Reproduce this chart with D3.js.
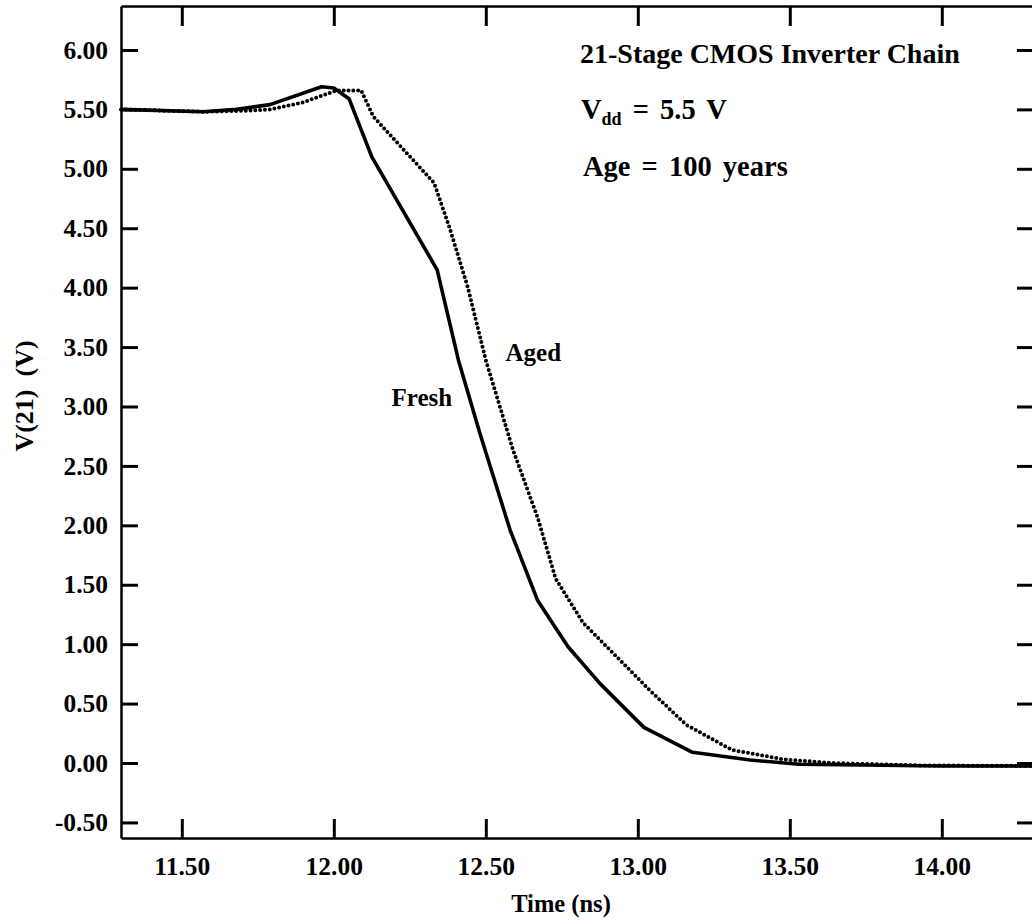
<!DOCTYPE html>
<html>
<head>
<meta charset="utf-8">
<script src="https://cdn.jsdelivr.net/npm/d3@7"></script>
<style>
  body { margin: 0; background: #fff; }
  svg text { font-family: "Liberation Serif", "Times New Roman", serif; font-weight: bold; fill: #000; }
  .axis path, .axis line { stroke: #000; }
  .axis path { stroke-width: 2.5; }
  .axis line { stroke-width: 3; }
</style>
</head>
<body>
<div id="chart"></div>
<script>
// fresh inverter chain output (ns, volts)
var freshTime = [11.30, 11.57, 11.68, 11.79, 11.96, 12.00, 12.05, 12.125, 12.34, 12.41, 12.48, 12.58, 12.67, 12.77, 12.875, 13.02, 13.18, 13.37, 13.53, 14.00, 14.30]
var freshVolts = [5.50, 5.48, 5.50, 5.54, 5.69, 5.68, 5.59, 5.10, 4.15, 3.39, 2.78, 1.96, 1.37, 0.98, 0.67, 0.30, 0.09, 0.025, -0.01, -0.025, -0.025]

// aged (100 years) output
var agedTime = [11.30, 11.57, 11.72, 11.79, 11.90, 12.01, 12.09, 12.13, 12.33, 12.38, 12.44, 12.50, 12.59, 12.67, 12.73, 12.82, 13.04, 13.16, 13.31, 13.48, 13.64, 13.92, 14.30]
var agedVolts = [5.50, 5.48, 5.49, 5.50, 5.56, 5.66, 5.66, 5.44, 4.88, 4.51, 4.01, 3.39, 2.63, 2.07, 1.55, 1.18, 0.61, 0.32, 0.11, 0.03, 0.00, -0.02, -0.025]

var xTicks = [11.5, 12.0, 12.5, 13.0, 13.5, 14.0]
var yTicks = [-0.5, 0, 0.5, 1.0, 1.5, 2.0, 2.5, 3.0, 3.5, 4.0, 4.5, 5.0, 5.5, 6.0]

var xLabel = 'Time (ns)'
var yLabel = 'V(21)  (V)'
var titleLine = '21-Stage CMOS Inverter Chain'
var ageLine = 'Age = 100 years'

var margin = {top: 6, right: -1, bottom: 86, left: 121}
var width = 1032 - margin.left - margin.right
var height = 924 - margin.top - margin.bottom

var xPositionScale = d3.scaleLinear().domain([11.30, 14.30]).range([0, width])
var yPositionScale = d3.scaleLinear().domain([-0.631, 6.37]).range([height, 0])

var svg = d3.select('#chart')
  .append('svg')
  .attr('width', 1032)
  .attr('height', 924)
  .append('g')
  .attr('transform', 'translate(' + margin.left + ',' + margin.top + ')')

var fresh = freshTime.map((t, i) => ({t: t, v: freshVolts[i]}))
var aged = agedTime.map((t, i) => ({t: t, v: agedVolts[i]}))

var line = d3.line()
  .x(d => xPositionScale(d.t))
  .y(d => yPositionScale(d.v))

// axes: ticks all point into the box, labels only on left and bottom
// plain hyphen for the negative label, like the original
var fmt = d => d3.format('.2f')(d).replace('\u2212', '-')

svg.append('g')
  .attr('class', 'axis axis-y')
  .call(d3.axisLeft(yPositionScale).tickValues(yTicks).tickFormat(fmt)
    .tickSize(-17).tickSizeOuter(0).tickPadding(13))

svg.append('g')
  .attr('class', 'axis axis-x')
  .attr('transform', 'translate(0,' + height + ')')
  .call(d3.axisBottom(xPositionScale).tickValues(xTicks).tickFormat(fmt)
    .tickSize(-19).tickSizeOuter(0).tickPadding(19))

svg.append('g')
  .attr('class', 'axis axis-top')
  .call(d3.axisTop(xPositionScale).tickValues(xTicks).tickFormat('')
    .tickSize(-20).tickSizeOuter(0))

svg.append('g')
  .attr('class', 'axis axis-right')
  .attr('transform', 'translate(' + width + ',0)')
  .call(d3.axisRight(yPositionScale).tickValues(yTicks).tickFormat('')
    .tickSize(-16).tickSizeOuter(0))

svg.selectAll('.axis text')
  .attr('font-size', 25.5)
  .attr('font-family', null)

svg.append('path')
  .datum(fresh)
  .attr('d', line)
  .attr('fill', 'none')
  .attr('stroke', '#000')
  .attr('stroke-width', 3.6)
  .attr('stroke-linejoin', 'round')

svg.append('path')
  .datum(aged)
  .attr('d', line)
  .attr('fill', 'none')
  .attr('stroke', '#000')
  .attr('stroke-width', 4)
  .attr('stroke-linecap', 'round')
  .attr('stroke-dasharray', '0,4.8')

// curve labels
svg.append('text')
  .attr('x', xPositionScale(12.19))
  .attr('y', yPositionScale(3.00))
  .attr('font-size', 25)
  .text('Fresh')

svg.append('text')
  .attr('x', xPositionScale(12.565))
  .attr('y', yPositionScale(3.38))
  .attr('font-size', 25)
  .text('Aged')

// annotation block
var note = svg.append('g')
  .attr('transform', 'translate(' + (580 - margin.left) + ',0)')

note.append('text')
  .attr('y', 63 - margin.top)
  .attr('font-size', 28)
  .text(titleLine)

var vdd = note.append('text')
  .attr('x', 1)
  .attr('y', 119 - margin.top)
  .attr('font-size', 28.5)
  .attr('word-spacing', 4)
vdd.append('tspan').text('V')
vdd.append('tspan').attr('font-size', 18).attr('dy', 6).text('dd')
vdd.append('tspan').attr('dy', -6).text(' = 5.5 V')

note.append('text')
  .attr('x', 3)
  .attr('y', 176 - margin.top)
  .attr('font-size', 28.5)
  .attr('word-spacing', 4)
  .text(ageLine)

// axis titles
svg.append('text')
  .attr('x', 561 - margin.left)
  .attr('y', 912 - margin.top)
  .attr('text-anchor', 'middle')
  .attr('font-size', 24.5)
  .text(xLabel)

svg.append('text')
  .attr('transform', 'translate(' + (33 - margin.left) + ',' + (396 - margin.top) + ') rotate(-90)')
  .attr('text-anchor', 'middle')
  .attr('font-size', 26)
  .style('white-space', 'pre')
  .text(yLabel)
</script>
</body>
</html>
